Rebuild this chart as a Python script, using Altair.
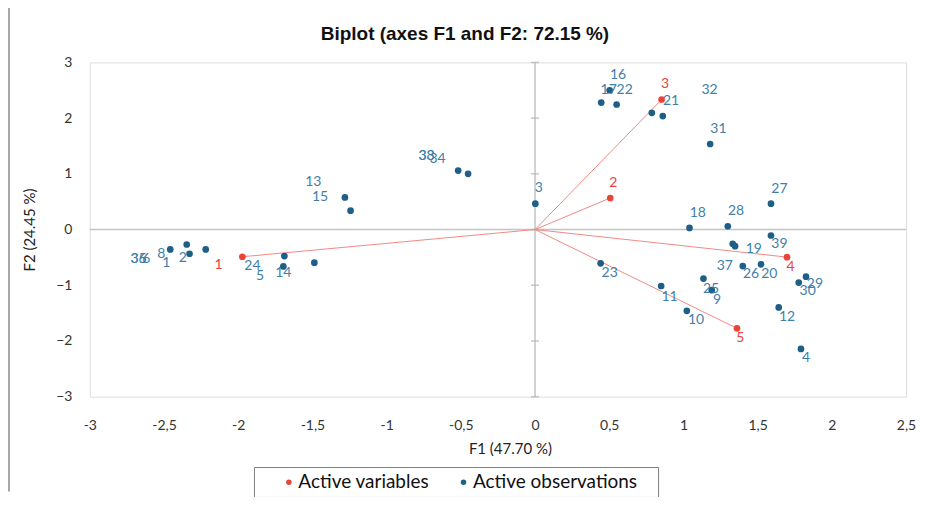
import altair as alt
import pandas as pd

# ---------------- data ----------------
obs_x = [-2.458, -2.347, -2.328, -2.219, -1.689, -1.696, -1.487, -1.281, -1.243,
         -0.518, -0.451, 0.002, 0.503, 0.446, 0.550, 0.787, 0.861, 1.180, 1.590,
         1.041, 1.299, 1.590, 1.332, 1.348, 1.400, 1.523, 0.442, 1.826, 1.777,
         0.850, 1.135, 1.191, 1.023, 1.642, 1.792]
obs_y = [-0.357, -0.268, -0.434, -0.357, -0.477, -0.661, -0.595, 0.577, 0.339,
         1.059, 1.000, 0.464, 2.500, 2.280, 2.245, 2.095, 2.036, 1.536, 0.464,
         0.030, 0.059, -0.107, -0.255, -0.298, -0.655, -0.625, -0.607, -0.845, -0.952,
         -1.013, -0.880, -1.089, -1.459, -1.398, -2.143]

obs_labels = ["35", "36", "6", "8", "1", "2", "24", "5", "14", "13", "15", "33", "38",
              "34", "3", "16", "17", "22", "21", "32", "31", "27", "18", "28", "39",
              "19", "37", "26", "20", "23", "29", "30", "11", "25", "9", "10", "12", "4"]
obs_label_x = [-2.672, -2.672, -2.620, -2.519, -2.485, -2.373, -1.904, -1.853, -1.696,
               -1.494, -1.449, -0.731, -0.731, -0.657, 0.025, 0.559, 0.496, 0.604,
               0.917, 1.176, 1.236, 1.647, 1.097, 1.355, 1.647, 1.474, 1.279, 1.456,
               1.579, 0.503, 1.886, 1.837, 0.906, 1.186, 1.227, 1.085, 1.698, 1.826]
obs_label_y = [-0.523, -0.523, -0.523, -0.446, -0.595, -0.518, -0.655, -0.834, -0.773,
               0.845, 0.584, 1.321, 1.321, 1.263, 0.745, 2.768, 2.513, 2.513, 2.309,
               2.513, 1.798, 0.727, 0.298, 0.339, -0.268, -0.345, -0.652, -0.804,
               -0.791, -0.786, -0.982, -1.102, -1.202, -1.059, -1.263, -1.625, -1.577,
               -2.304]

var_names = ["1", "2", "3", "4", "5"]
var_x = [-1.972, 0.507, 0.853, 1.698, 1.361]
var_y = [-0.488, 0.566, 2.334, -0.495, -1.773]
var_label_x = [-2.133, 0.527, 0.877, 1.721, 1.384]
var_label_y = [-0.643, 0.834, 2.607, -0.666, -1.952]

x_ticks = [-3, -2.5, -2, -1.5, -1, -0.5, 0, 0.5, 1, 1.5, 2, 2.5]
y_ticks = [-3, -2, -1, 0, 1, 2, 3]

series = ["Active variables", "Active observations"]

# ---------------- styling ----------------
RED = "#e8443a"
RED_LINE = "#f08a84"
BLUE = "#1d5f87"
BLUE_TXT = "#3f7fa8"
FONT = "Lato"

obs_df = pd.DataFrame({"x": obs_x, "y": obs_y, "type": series[1]})
obs_lab_df = pd.DataFrame({"x": obs_label_x, "y": obs_label_y, "t": obs_labels})
var_df = pd.DataFrame({"x": var_x, "y": var_y, "x0": 0.0, "y0": 0.0,
                       "name": var_names, "type": series[0]})
var_lab_df = pd.DataFrame({"x": var_label_x, "y": var_label_y, "t": var_names})
zero_df = pd.DataFrame({"v": [0.0]})
ytick_df = pd.DataFrame({"y": y_ticks, "x": 0.0})

xs = alt.Scale(domain=[-3, 2.5], nice=False, zero=False)
ys = alt.Scale(domain=[-3, 3], nice=False, zero=False)

x_axis = alt.Axis(title="F1 (47.70 %)", values=x_ticks, grid=False, domain=False,
                  ticks=False, labelPadding=22, labelFlush=False, labelFont=FONT,
                  labelFontSize=14, labelColor="#333333",
                  labelExpr="replace(toString(datum.value), '.', ',')",
                  titleFont=FONT, titleFontSize=15, titleFontWeight="normal",
                  titleColor="#222222", titlePadding=9, titleX=421)
y_axis = alt.Axis(title="F2 (24.45 %)", values=y_ticks, grid=False, domain=False,
                  ticks=False, labelPadding=18, labelFlush=False, labelFont=FONT,
                  labelFontSize=14, labelColor="#333333", titleFont=FONT,
                  titleFontSize=15, titleFontWeight="normal", titleColor="#222222",
                  titlePadding=18)


def X(field):
    return alt.X(field, type="quantitative", scale=xs, axis=x_axis)


def Y(field):
    return alt.Y(field, type="quantitative", scale=ys, axis=y_axis)


color = alt.Color("type:N",
                  scale=alt.Scale(domain=series, range=[RED, BLUE]),
                  legend=alt.Legend(orient="none", legendX=190, legendY=411,
                                    direction="horizontal", columns=2, title=None,
                                    symbolType="circle", symbolSize=30,
                                    symbolStrokeWidth=0, labelFont=FONT,
                                    labelFontSize=19, labelColor="#111111",
                                    labelLimit=400, labelOffset=0,
                                    columnPadding=24, padding=0))

box_df = pd.DataFrame({"k": [0]})

legend_box = alt.Chart(box_df).mark_rect(fill="white", stroke="#7f7f7f", strokeWidth=1).encode(
    x=alt.value(165), x2=alt.value(570), y=alt.value(406), y2=alt.value(436))

outer_left = alt.Chart(box_df).mark_rule(color="#a6a6a6", strokeWidth=2).encode(
    x=alt.value(-81), y=alt.value(-62), y2=alt.value(430))

h_zero = alt.Chart(zero_df).mark_rule(color="#c4c4c4", strokeWidth=1.5).encode(y=Y("v"))
v_zero = alt.Chart(zero_df).mark_rule(color="#c4c4c4", strokeWidth=1.5).encode(x=X("v"))
y_tick_marks = alt.Chart(ytick_df).mark_tick(orient="horizontal", size=8, thickness=1.5,
                                             color="#b0b0b0").encode(x=X("x"), y=Y("y"))

var_lines = alt.Chart(var_df).mark_rule(color=RED_LINE, strokeWidth=1).encode(
    x=X("x0"), y=Y("y0"), x2="x", y2="y")

obs_points = alt.Chart(obs_df).mark_circle(size=45, opacity=1).encode(
    x=X("x"), y=Y("y"), color=color)
var_points = alt.Chart(var_df).mark_circle(size=45, opacity=1).encode(
    x=X("x"), y=Y("y"), color=color)

obs_text = alt.Chart(obs_lab_df).mark_text(font=FONT, fontSize=14, color=BLUE_TXT,
                                           align="center", baseline="middle").encode(
    x=X("x"), y=Y("y"), text="t:N")
var_text = alt.Chart(var_lab_df).mark_text(font=FONT, fontSize=14, color=RED,
                                           align="center", baseline="middle").encode(
    x=X("x"), y=Y("y"), text="t:N")

chart = alt.layer(
    outer_left, legend_box, h_zero, v_zero, y_tick_marks, var_lines,
    obs_points, var_points, obs_text, var_text
).properties(
    width=818, height=335,
    title=alt.TitleParams("Biplot (axes F1 and F2: 72.15 %)", font="Liberation Sans",
                          fontSize=19, fontWeight="bold", color="#111111",
                          anchor="middle", frame="group", dx=-33, offset=-45),
    autosize=alt.AutoSizeParams(type="none"),
    padding={"left": 82, "top": 54, "right": 12, "bottom": 100},
).configure_view(stroke="#d0d0d0", strokeWidth=1).configure(background="white")

chart.save("out.html", embed_options={"renderer": "svg", "actions": False})
